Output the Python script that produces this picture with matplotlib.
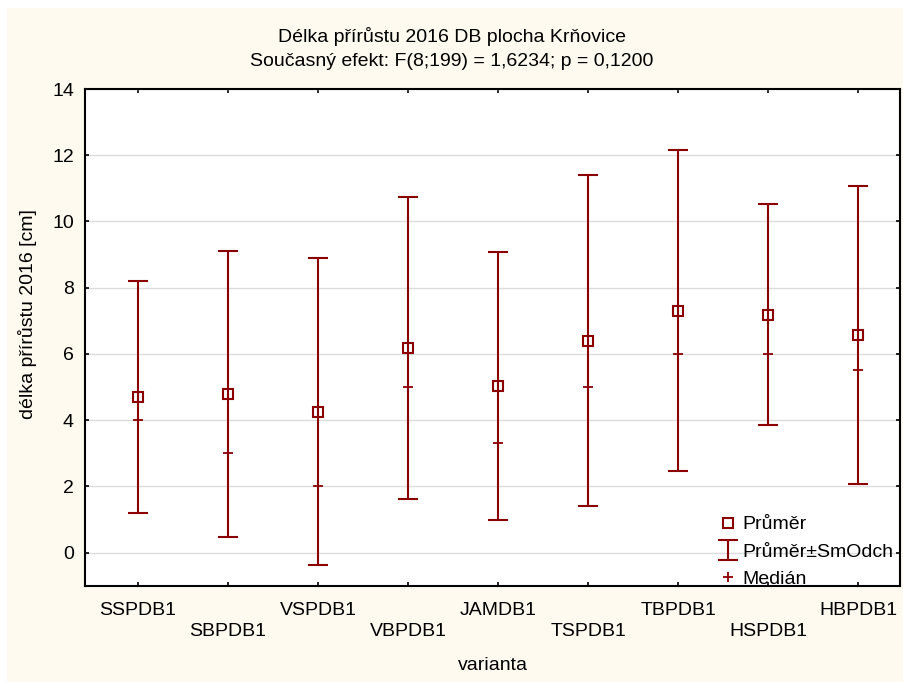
import matplotlib
matplotlib.use("Agg")
import matplotlib.pyplot as plt
import matplotlib.patches as mpatches
from matplotlib.legend_handler import HandlerErrorbar

plt.rcParams["font.family"] = ["Liberation Sans", "DejaVu Sans"]

varianty = ["SSPDB1", "SBPDB1", "VSPDB1", "VBPDB1", "JAMDB1",
            "TSPDB1", "TBPDB1", "HSPDB1", "HBPDB1"]
prumer = [4.70, 4.80, 4.26, 6.17, 5.03, 6.40, 7.31, 7.18, 6.56]
smodch = [3.49, 4.32, 4.64, 4.56, 4.06, 5.00, 4.85, 3.34, 4.50]
median = [4.0, 3.0, 2.0, 5.0, 3.3, 5.0, 6.0, 6.0, 5.5]

RED = "#8B0000"
CREAM = "#FEFAF0"
FS = 14

fig = plt.figure(figsize=(9.04, 6.82), dpi=100)
fig.patch.set_facecolor("white")
fig.patches.append(mpatches.Rectangle((7 / 904, 0), 1, 674 / 682,
                                      transform=fig.transFigure,
                                      facecolor=CREAM, edgecolor="none",
                                      zorder=-10))

ax = fig.add_axes([85 / 904, (682 - 585.7) / 682, 815.5 / 904, 496.7 / 682])
ax.set_facecolor("white")

x = list(range(len(varianty)))
eb = ax.errorbar(x, prumer, yerr=smodch, fmt="none", ecolor=RED,
                 elinewidth=1.5, capsize=7, capthick=1.5, zorder=3)
sq, = ax.plot(x, prumer, "s", color=RED, markerfacecolor="none",
              markersize=6.5, markeredgewidth=1.5, zorder=4)
md, = ax.plot(x, median, "+", color=RED, markersize=7,
              markeredgewidth=1.3, zorder=4)

ax.set_xlim(-0.59, 8.47)
ax.set_ylim(-1, 14)
ax.set_yticks(range(0, 15, 2))
ax.set_xticks(x)
# every second label goes one line lower
ax.set_xticklabels([v if i % 2 == 0 else "\n" + v
                    for i, v in enumerate(varianty)],
                   linespacing=1.3)
ax.yaxis.grid(True, color="#DCDCDC", linewidth=1)
ax.set_axisbelow(True)

for s in ax.spines.values():
    s.set_linewidth(1.5)
    s.set_color("black")
ax.tick_params(direction="in", length=3, width=1.2, labelsize=FS,
               top=True, right=True, colors="black")
ax.tick_params(axis="x", pad=12)
ax.tick_params(axis="y", pad=8)

fig.text(0.5, (682 - 37) / 682, "Délka přírůstu 2016 DB plocha Krňovice",
         ha="center", va="center", fontsize=FS)
fig.text(0.5, (682 - 62) / 682,
         "Současný efekt: F(8;199) = 1,6234; p = 0,1200",
         ha="center", va="center", fontsize=FS)
fig.text(28 / 904, (682 - 314) / 682, "délka přírůstu 2016 [cm]",
         rotation=90, ha="center", va="center", fontsize=FS)
fig.text(492.5 / 904, (682 - 665) / 682, "varianta",
         ha="center", va="center", fontsize=FS)

ax.legend([sq, eb, md], ["Průměr", "Průměr±SmOdch", "Medián"],
          handler_map={type(eb): HandlerErrorbar(yerr_size=0.5)},
          loc="lower left", bbox_to_anchor=(716 / 904, (682 - 588) / 682),
          bbox_transform=fig.transFigure, frameon=False, fontsize=FS,
          handlelength=1.2, handletextpad=0.15, labelspacing=0.5,
          borderpad=0, borderaxespad=0)

fig.savefig("out.png", dpi=100, facecolor=fig.get_facecolor())
